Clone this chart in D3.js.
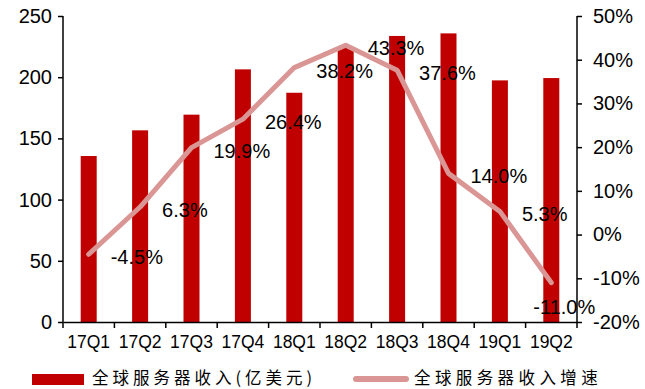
<!DOCTYPE html>
<html>
<head>
<meta charset="utf-8">
<script src="https://cdn.jsdelivr.net/npm/d3@7/dist/d3.min.js"></script>
<style>
  body { margin: 0; background: #fff; }
  svg text { font-family: Arial, "Liberation Sans", sans-serif; fill: #000; }
  .cjk { font-family: "Noto Sans CJK SC", sans-serif !important; }
</style>
</head>
<body>
<svg id="chart" width="645" height="389"></svg>
<script>
// quarters
var quarters = ["17Q1", "17Q2", "17Q3", "17Q4", "18Q1", "18Q2", "18Q3", "18Q4", "19Q1", "19Q2"];
// revenue, 100M USD
var revenue = [135.6, 156.6, 169.4, 206.4, 187.3, 224, 233.7, 235.8, 197.4, 199.3];
// yoy growth, %
var growth = [-4.5, 6.3, 19.9, 26.4, 38.2, 43.3, 37.6, 14.0, 5.3, -11.0];
var leftTicks = [0, 50, 100, 150, 200, 250];
var rightTicks = [-20, -10, 0, 10, 20, 30, 40, 50];
var legendNames = ["全球服务器收入(亿美元)", "全球服务器收入增速"];

var svg = d3.select("#chart");
var plotL = 63, plotR = 577, plotT = 16, plotB = 322;

var x = d3.scaleBand().domain(quarters).range([plotL, plotR]);
var yL = d3.scaleLinear().domain([0, 250]).range([plotB, plotT]);
var yR = d3.scaleLinear().domain([-20, 50]).range([plotB, plotT]);

// bars
var barW = 16;
svg.append("g").selectAll("rect")
    .data(revenue)
    .enter().append("rect")
    .attr("x", function(d, i) { return x(quarters[i]) + x.bandwidth() / 2 - barW / 2; })
    .attr("y", function(d) { return yL(d); })
    .attr("width", barW)
    .attr("height", function(d) { return yL(0) - yL(d); })
    .attr("fill", "#C00000");

// axes
var axL = svg.append("g")
    .attr("transform", "translate(" + plotL + ",0)")
    .call(d3.axisLeft(yL).tickValues(leftTicks).tickSize(5).tickPadding(6));
var axR = svg.append("g")
    .attr("transform", "translate(" + plotR + ",0)")
    .call(d3.axisRight(yR).tickValues(rightTicks).tickSize(5).tickPadding(11)
        .tickFormat(function(d) { return d + "%"; }));
var axB = svg.append("g")
    .attr("transform", "translate(0," + plotB + ")")
    .call(d3.axisBottom(x).tickSize(0).tickPadding(14));

// bottom ticks between categories
axB.selectAll(".sep")
    .data(d3.range(quarters.length + 1))
    .enter().append("line")
    .attr("x1", function(i) { return plotL + i * x.step(); })
    .attr("x2", function(i) { return plotL + i * x.step(); })
    .attr("y1", 0).attr("y2", 6)
    .attr("stroke", "#000").attr("stroke-width", 1.5);

[axL, axR, axB].forEach(function(a) {
    a.select(".domain").attr("stroke", "#000").attr("stroke-width", 1.5);
    a.selectAll(".tick line").attr("stroke", "#000").attr("stroke-width", 1.5);
});
axL.selectAll("text").style("font-size", "20px");
axR.selectAll("text").style("font-size", "20px");
axB.selectAll("text").style("font-size", "17.5px").attr("dy", "0.71em");
axL.select(".domain").attr("d", "M0," + plotT + "V" + plotB);
axR.select(".domain").attr("d", "M0," + plotT + "V" + plotB);

// growth line
var line = d3.line()
    .x(function(d, i) { return x(quarters[i]) + x.bandwidth() / 2; })
    .y(function(d) { return yR(d); });
svg.append("path")
    .datum(growth)
    .attr("d", line)
    .attr("fill", "none")
    .attr("stroke", "#D99694")
    .attr("stroke-width", 5)
    .attr("stroke-linecap", "round")
    .attr("stroke-linejoin", "round");

// data labels (right of point, the last one below)
svg.append("g").selectAll("text")
    .data(growth)
    .enter().append("text")
    .attr("x", function(d, i) {
        var cx = x(quarters[i]) + x.bandwidth() / 2;
        return i === growth.length - 1 ? cx + 13 : cx + 22;
    })
    .attr("y", function(d, i) {
        return i === growth.length - 1 ? yR(d) + 24 : yR(d) + 3;
    })
    .attr("dy", "0.35em")
    .attr("text-anchor", function(d, i) { return i === growth.length - 1 ? "middle" : "start"; })
    .style("font-size", "20px")
    .text(function(d) { return d.toFixed(1) + "%"; });

// legend
var lg = svg.append("g");
lg.append("rect").attr("x", 32).attr("y", 374).attr("width", 52).attr("height", 11).attr("fill", "#C00000");
lg.append("text").attr("class", "cjk").attr("x", 92).attr("y", 384)
    .style("font-size", "16.5px").style("letter-spacing", "4px")
    .text(legendNames[0]);
lg.append("line").attr("x1", 356).attr("x2", 406).attr("y1", 379).attr("y2", 379)
    .attr("stroke", "#D99694").attr("stroke-width", 6).attr("stroke-linecap", "round");
lg.append("text").attr("class", "cjk").attr("x", 414).attr("y", 384)
    .style("font-size", "16.5px").style("letter-spacing", "4.4px")
    .text(legendNames[1]);
</script>
</body>
</html>
